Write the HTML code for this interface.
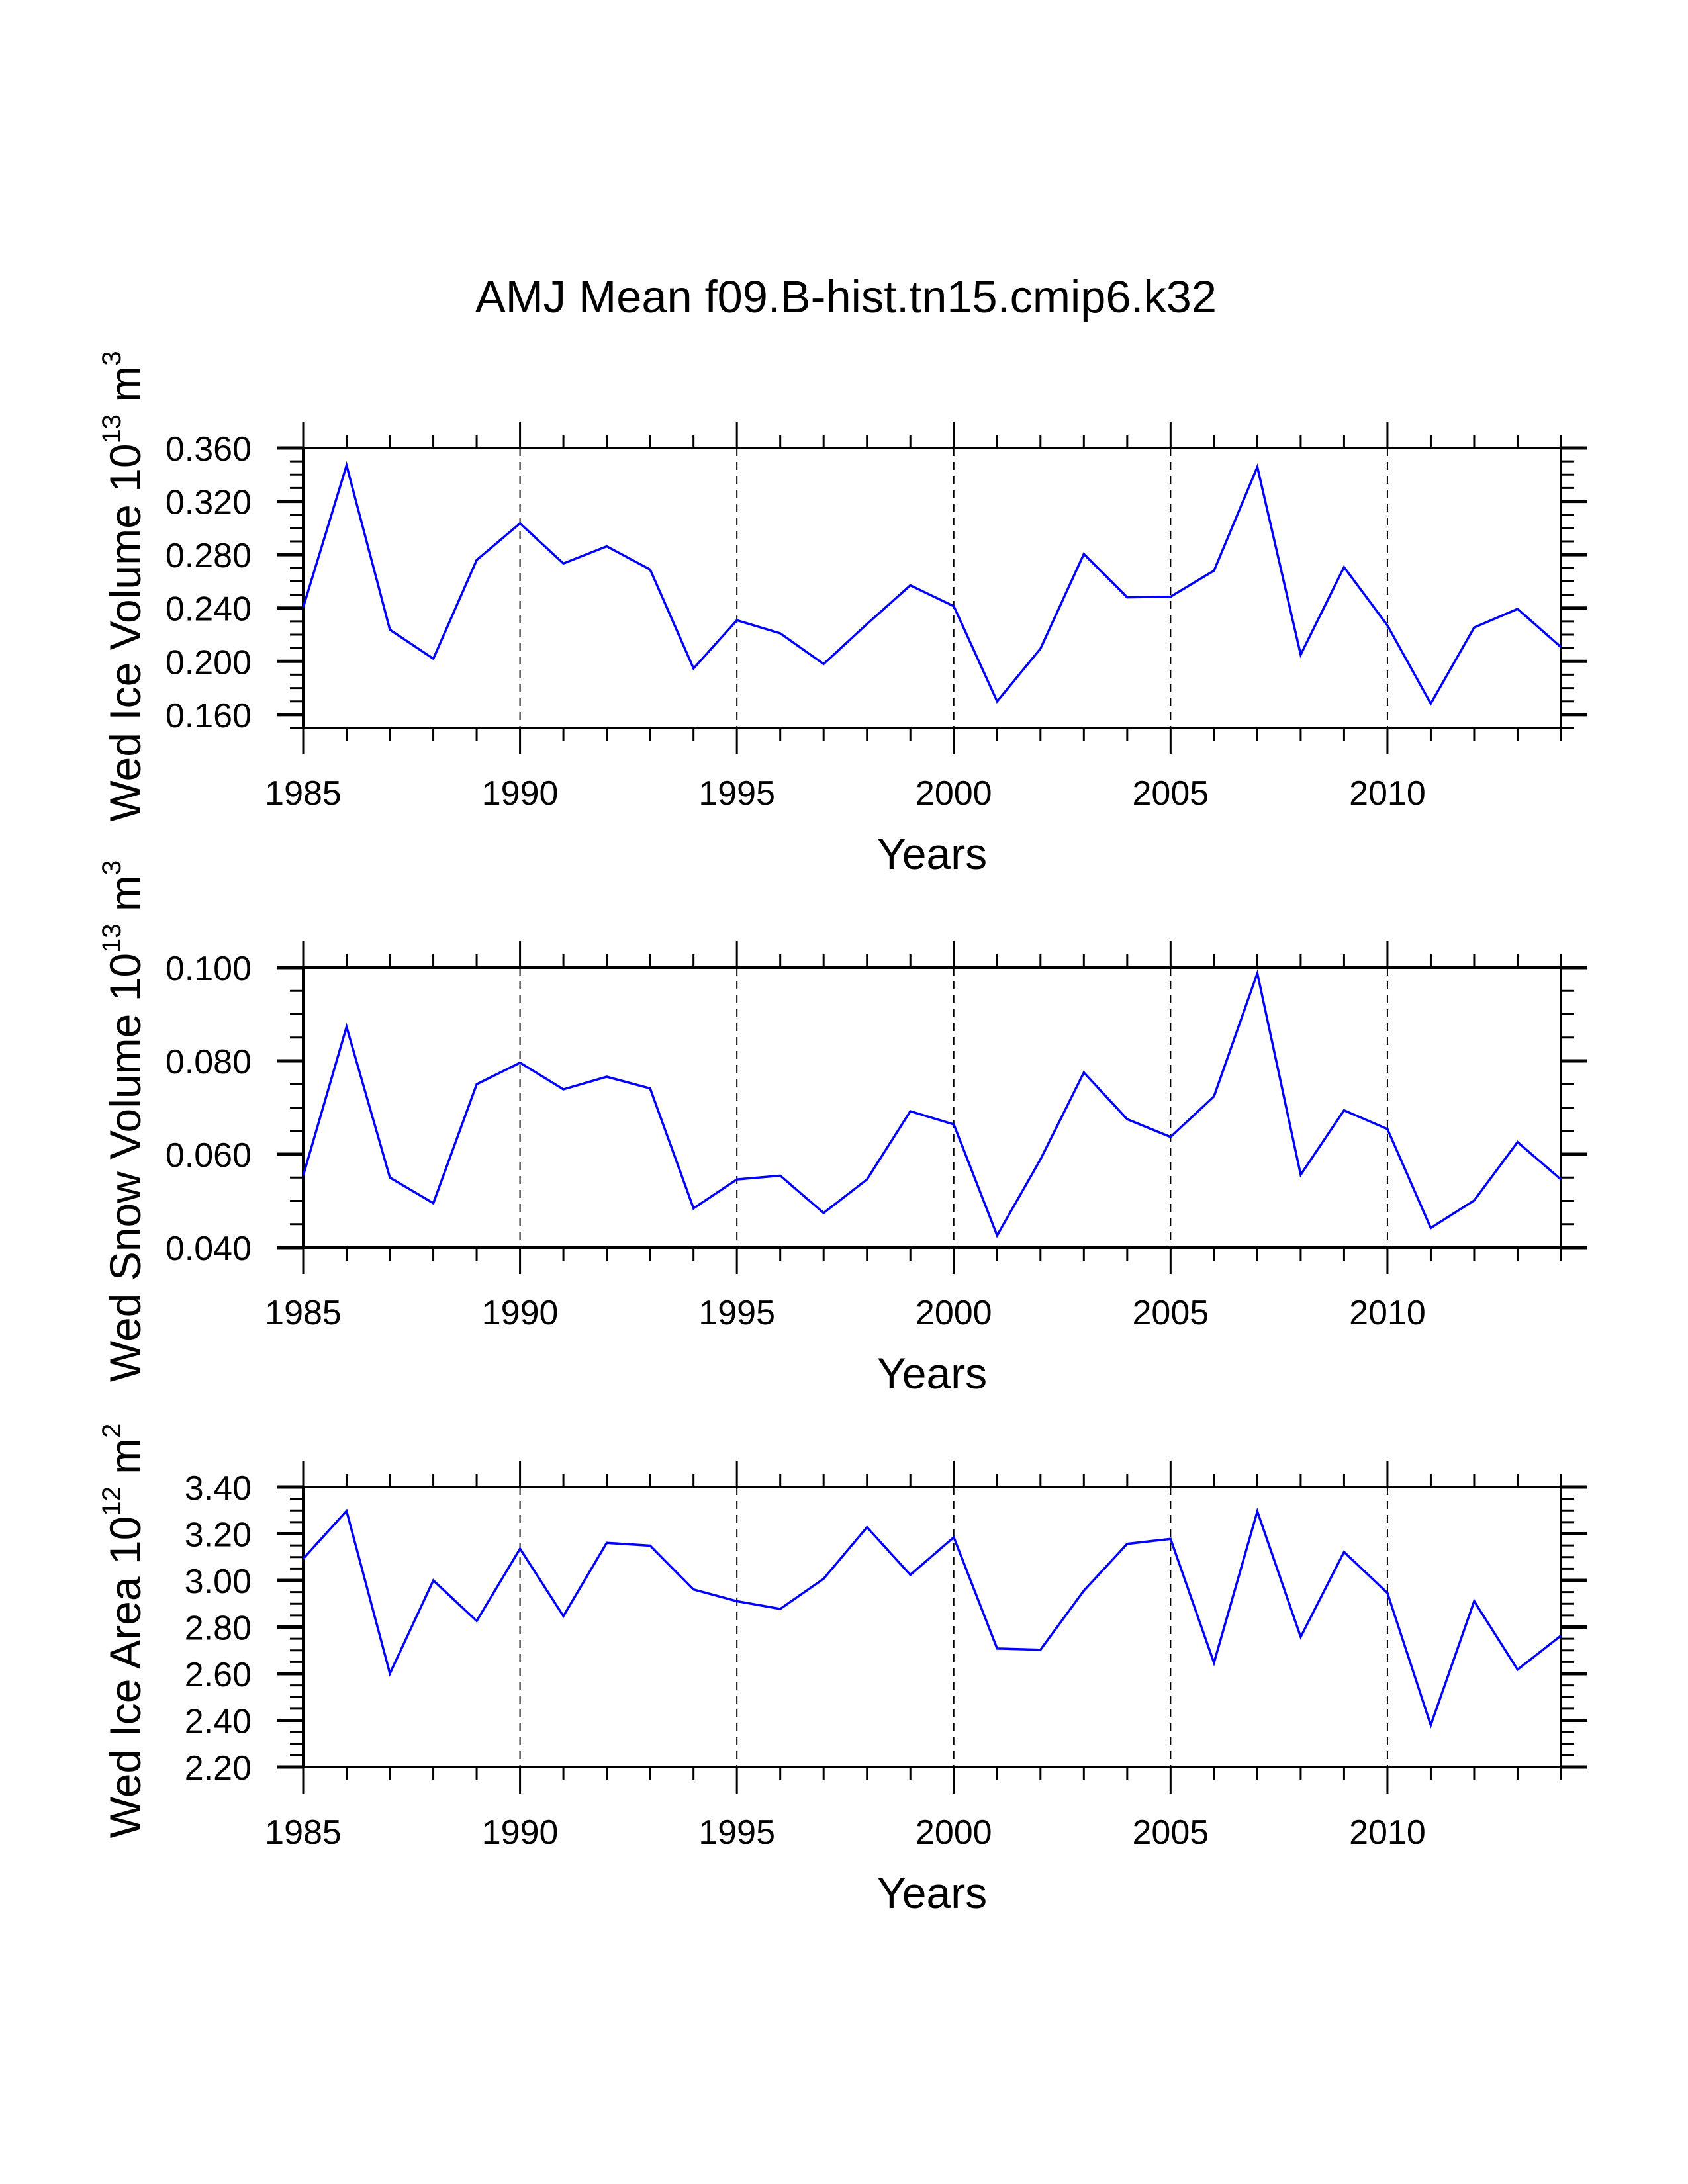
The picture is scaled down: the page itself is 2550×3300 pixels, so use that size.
<!DOCTYPE html>
<html><head><meta charset="utf-8"><style>
html,body{margin:0;padding:0;background:#fff;}
svg{display:block;}
text{font-family:"Liberation Sans",Arial,sans-serif;fill:#000;}
</style></head><body>
<svg id="chart" xmlns="http://www.w3.org/2000/svg" width="2550" height="3300" viewBox="0 0 2550 3300">
<rect width="2550" height="3300" fill="#fff"/>
<text x="1278" y="472" font-size="69" text-anchor="middle" textLength="1120" lengthAdjust="spacingAndGlyphs">AMJ Mean f09.B-hist.tn15.cmip6.k32</text>
<g id="panels"></g>
</svg>
<script>
const years = [1985,1986,1987,1988,1989,1990,1991,1992,1993,1994,1995,1996,1997,1998,1999,2000,2001,2002,2003,2004,2005,2006,2007,2008,2009,2010,2011,2012,2013,2014];
const iceVolume = [0.2405,0.347,0.2237,0.202,0.276,0.3035,0.2734,0.2863,0.2689,0.1947,0.2308,0.221,0.198,0.228,0.257,0.2414,0.170,0.2095,0.2805,0.248,0.2485,0.268,0.3458,0.205,0.2707,0.227,0.1683,0.2254,0.2393,0.2107];
const snowVolume = [0.0554,0.0873,0.055,0.0495,0.075,0.0796,0.0739,0.0766,0.0741,0.0484,0.0546,0.0554,0.0474,0.0546,0.0692,0.0664,0.0426,0.0589,0.0775,0.0675,0.0637,0.0724,0.0988,0.0556,0.0694,0.0654,0.0442,0.0501,0.0626,0.0546];
const iceArea = [3.093,3.298,2.601,3.0,2.826,3.136,2.847,3.161,3.149,2.961,2.911,2.878,3.007,3.228,3.024,3.185,2.708,2.703,2.956,3.157,3.178,2.647,3.296,2.758,3.122,2.946,2.38,2.911,2.618,2.763];
const xTickLabels = ["1985","1990","1995","2000","2005","2010"];
const iceVolumeTicks = ["0.160","0.200","0.240","0.280","0.320","0.360"];
const snowVolumeTicks = ["0.040","0.060","0.080","0.100"];
const iceAreaTicks = ["2.20","2.40","2.60","2.80","3.00","3.20","3.40"];

const NS = "http://www.w3.org/2000/svg";
const root = document.getElementById('panels');
const X0 = 458, X1 = 2358, H = 423;
function xScale(yr){ return X0 + (yr - 1985) / (2014 - 1985) * (X1 - X0); }
function mk(tag, attrs, parent){
  const e = document.createElementNS(NS, tag);
  for (const k in attrs) e.setAttribute(k, attrs[k]);
  parent.appendChild(e); return e;
}
const panels = [
  {top:677, vmin:0.15, vmax:0.36, minor:0.01, ticks:iceVolumeTicks, data:iceVolume, key:'ice-volume',
   title:['Wed Ice Volume 10','13',' m','3'], tcy:886},
  {top:1462, vmin:0.04, vmax:0.10, minor:0.005, ticks:snowVolumeTicks, data:snowVolume, key:'snow-volume',
   title:['Wed Snow Volume 10','13',' m','3'], tcy:1694},
  {top:2247, vmin:2.2, vmax:3.4, minor:0.05, ticks:iceAreaTicks, data:iceArea, key:'ice-area',
   title:['Wed Ice Area 10','12',' m','2'], tcy:2464}
];
panels.forEach(p => {
  const g = mk('g', {}, root);
  
  
  const bot = p.top + H;
  const yScale = v => bot - (v - p.vmin) / (p.vmax - p.vmin) * H;
  [1990,1995,2000,2005,2010].forEach(yr => {
    const l = mk('line', {x1:xScale(yr), x2:xScale(yr), y1:p.top, y2:bot, stroke:'#000', 'stroke-width':2, 'stroke-dasharray':'12 9'}, g);
    
    
  });
  years.forEach(yr => {
    const major = (yr % 5 === 0);
    const len = major ? 40 : 20;
    const x = xScale(yr);
    mk('line', {x1:x, x2:x, y1:p.top, y2:p.top - len, stroke:'#000', 'stroke-width':3}, g);
    mk('line', {x1:x, x2:x, y1:bot, y2:bot + len, stroke:'#000', 'stroke-width':3}, g);
  });
  const n = Math.round((p.vmax - p.vmin) / p.minor);
  for (let i = 0; i <= n; i++) {
    const v = p.vmin + i * p.minor;
    const y = yScale(v);
    const isMajor = p.ticks.some(t => Math.abs(parseFloat(t) - v) < p.minor / 10);
    const len = isMajor ? 40 : 20;
    const w = isMajor ? 5 : 3;
    mk('line', {x1:X0, x2:X0 - len, y1:y, y2:y, stroke:'#000', 'stroke-width':w}, g);
    mk('line', {x1:X1, x2:X1 + len, y1:y, y2:y, stroke:'#000', 'stroke-width':w}, g);
  }
  p.ticks.forEach(t => {
    const tx = mk('text', {x:380, y:yScale(parseFloat(t)) + 19, 'font-size':52, 'text-anchor':'end'}, g);
    tx.textContent = t;
    
    
  });
  xTickLabels.forEach(t => {
    const tx = mk('text', {x:xScale(parseFloat(t)), y:bot + 116, 'font-size':52, 'text-anchor':'middle'}, g);
    tx.textContent = t;
    
    
  });
  const fr = mk('rect', {x:X0, y:p.top, width:X1 - X0, height:H, fill:'none', stroke:'#000', 'stroke-width':4}, g);
  
  
  const pts = p.data.map((v, i) => xScale(years[i]).toFixed(1) + ',' + yScale(v).toFixed(1)).join(' ');
  const pl = mk('polyline', {points:pts, fill:'none', stroke:'#0000ff', 'stroke-width':3.5, 'stroke-linejoin':'miter'}, g);
  
  
  const xt = mk('text', {x:1408, y:bot + 213, 'font-size':66, 'text-anchor':'middle'}, g);
  xt.textContent = 'Years';
  
  
  const yt = mk('text', {x:0, y:0, 'font-size':66, 'text-anchor':'middle', transform:'translate(212,' + p.tcy + ') rotate(-90)'}, g);
  
  
  const s1 = mk('tspan', {}, yt); s1.textContent = p.title[0];
  const s2 = mk('tspan', {'font-size':40, dy:-30}, yt); s2.textContent = p.title[1];
  const s3 = mk('tspan', {dy:30}, yt); s3.textContent = p.title[2];
  const s4 = mk('tspan', {'font-size':40, dy:-30}, yt); s4.textContent = p.title[3];
});
</script>
</body></html>
